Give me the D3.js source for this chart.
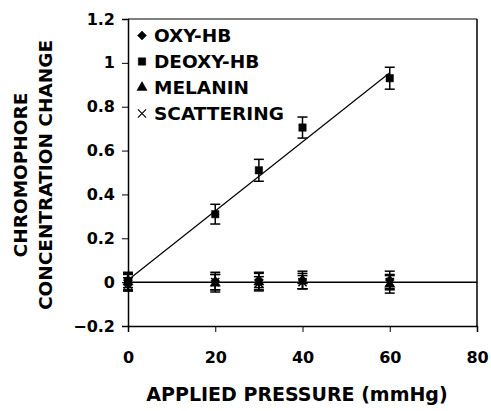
<!DOCTYPE html>
<html>
<head>
<meta charset="utf-8">
<script src="https://cdn.jsdelivr.net/npm/d3@7/dist/d3.min.js"></script>
<style>
  body { margin: 0; background: #fff; }
  text { font-family: "DejaVu Sans", sans-serif; font-weight: bold; fill: #000; }
</style>
</head>
<body>
<div id="chart"></div>
<script>
// chart size
const width = 491;
const height = 411;
const margin = { top: 19, right: 14, bottom: 85, left: 128 };

// data
const pressure = [0, 20, 30, 40, 60];
const oxyHb = [0.01, 0.005, 0.01, 0.01, 0.01];
const oxyHbErr = [0.035, 0.04, 0.035, 0.04, 0.04];
const deoxyHb = [0.0, 0.31, 0.51, 0.705, 0.93];
const deoxyHbErr = [0.035, 0.045, 0.05, 0.048, 0.05];
const melanin = [0.0, -0.005, 0.0, 0.005, -0.01];
const melaninErr = [0.04, 0.04, 0.04, 0.035, 0.04];
const scattering = [-0.01, 0.0, -0.005, 0.0, 0.0];
const scatteringErr = [0.03, 0.035, 0.03, 0.03, 0.035];

// fitted lines
const deoxyFitX = [0, 60];
const deoxyFitY = [0.01, 0.955];
const flatFitX = [0, 80];
const flatFitY = [0, 0];

const xTicks = [0, 20, 40, 60, 80];
const yTicks = [-0.2, 0, 0.2, 0.4, 0.6, 0.8, 1, 1.2];
const legendNames = ["OXY-HB", "DEOXY-HB", "MELANIN", "SCATTERING"];

const svg = d3.select("#chart")
  .append("svg")
  .attr("width", width)
  .attr("height", height);

const x = d3.scaleLinear().domain([0, 80]).range([margin.left, width - margin.right]);
const y = d3.scaleLinear().domain([-0.2, 1.2]).range([height - margin.bottom, margin.top]);

// frame: top and right border
svg.append("line")
  .attr("x1", x(0)).attr("x2", x(80))
  .attr("y1", y(1.2)).attr("y2", y(1.2))
  .attr("stroke", "#000").attr("stroke-width", 1);
svg.append("line")
  .attr("x1", x(80)).attr("x2", x(80))
  .attr("y1", y(1.2)).attr("y2", y(-0.2))
  .attr("stroke", "#000").attr("stroke-width", 1.5);

// axes
const xAxis = svg.append("g")
  .attr("transform", `translate(0,${y(-0.2)})`)
  .call(d3.axisBottom(x).tickValues(xTicks).tickSize(6).tickPadding(20).tickFormat(d3.format("d")));
const yAxis = svg.append("g")
  .attr("transform", `translate(${x(0)},0)`)
  .call(d3.axisLeft(y).tickValues(yTicks).tickSize(6).tickPadding(7).tickFormat((d) => d3.format("")(+d.toFixed(1))));

[xAxis, yAxis].forEach((g) => {
  g.select(".domain").attr("stroke", "#000").attr("stroke-width", 1.5);
  g.selectAll(".tick line").attr("stroke", "#000").attr("stroke-width", 1);
  g.selectAll(".tick text")
    .style("font-family", "'DejaVu Sans', sans-serif")
    .style("font-weight", "bold")
    .style("font-size", "16px")
    .attr("fill", "#000");
});

// axis titles
svg.append("text")
  .attr("x", 297)
  .attr("y", 401)
  .attr("text-anchor", "middle")
  .style("font-size", "19px")
  .text("APPLIED PRESSURE (mmHg)");

const yTitle = svg.append("g")
  .attr("transform", "translate(0,175) rotate(-90)");
yTitle.append("text")
  .attr("x", 0).attr("y", 27)
  .attr("text-anchor", "middle")
  .style("font-size", "18.5px")
  .text("CHROMOPHORE");
yTitle.append("text")
  .attr("x", 0).attr("y", 52)
  .attr("text-anchor", "middle")
  .style("font-size", "18.5px")
  .text("CONCENTRATION CHANGE");

// fitted lines
const line = d3.line().x((d) => x(d[0])).y((d) => y(d[1]));
svg.append("path")
  .datum(d3.zip(flatFitX, flatFitY))
  .attr("d", line)
  .attr("fill", "none")
  .attr("stroke", "#000")
  .attr("stroke-width", 1.5);
svg.append("path")
  .datum(d3.zip(deoxyFitX, deoxyFitY))
  .attr("d", line)
  .attr("fill", "none")
  .attr("stroke", "#000")
  .attr("stroke-width", 1.2);

// symbol shapes (diamond = square turned 45 degrees)
const symbols = [
  d3.symbol().type(d3.symbolSquare).size(40),
  d3.symbol().type(d3.symbolSquare).size(55),
  d3.symbol().type(d3.symbolTriangle).size(45),
  d3.symbol().type(d3.symbolX).size(45),
];
const symbolTurn = [45, 0, 0, 0];

const series = [
  { values: oxyHb, err: oxyHbErr },
  { values: deoxyHb, err: deoxyHbErr },
  { values: melanin, err: melaninErr },
  { values: scattering, err: scatteringErr },
];

// error bars and markers
series.forEach((s, i) => {
  const g = svg.append("g");
  const pts = pressure.map((p, j) => ({ p: p, v: s.values[j], e: s.err[j] }));

  g.selectAll("line.err")
    .data(pts)
    .enter()
    .append("line")
    .attr("x1", (d) => x(d.p)).attr("x2", (d) => x(d.p))
    .attr("y1", (d) => y(d.v - d.e)).attr("y2", (d) => y(d.v + d.e))
    .attr("stroke", "#000").attr("stroke-width", 1.5);

  [-1, 1].forEach((sign) => {
    g.selectAll("line.cap" + sign)
      .data(pts)
      .enter()
      .append("line")
      .attr("x1", (d) => x(d.p) - 5).attr("x2", (d) => x(d.p) + 5)
      .attr("y1", (d) => y(d.v + sign * d.e)).attr("y2", (d) => y(d.v + sign * d.e))
      .attr("stroke", "#000").attr("stroke-width", 1.5);
  });

  g.selectAll("path.mark")
    .data(pts)
    .enter()
    .append("path")
    .attr("transform", (d) => `translate(${x(d.p)},${y(d.v)}) rotate(${symbolTurn[i]})`)
    .attr("d", symbols[i])
    .attr("fill", i === 3 ? "none" : "#000")
    .attr("stroke", "#000")
    .attr("stroke-width", i === 3 ? 1.5 : 0.5);
});

// legend
const legend = svg.append("g");
const legendY = [42, 68, 94, 120];
legendNames.forEach((name, i) => {
  legend.append("path")
    .attr("transform", `translate(142,${legendY[i] - 6.5}) rotate(${symbolTurn[i]})`)
    .attr("d", symbols[i])
    .attr("fill", i === 3 ? "none" : "#000")
    .attr("stroke", "#000")
    .attr("stroke-width", i === 3 ? 1.2 : 0.5);
  legend.append("text")
    .attr("x", 154)
    .attr("y", legendY[i])
    .style("font-size", "18.5px")
    .text(name);
});
</script>
</body>
</html>
